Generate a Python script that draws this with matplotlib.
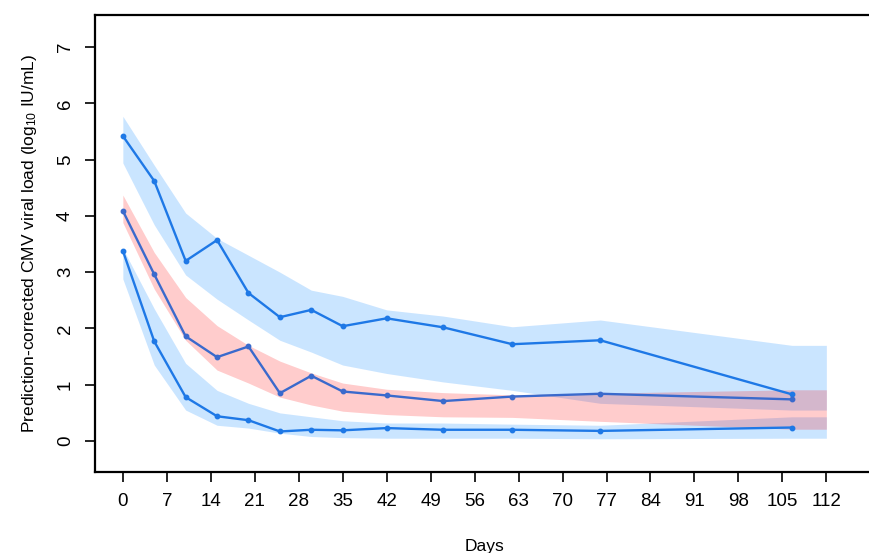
import matplotlib
matplotlib.use("Agg")
import matplotlib.pyplot as plt

plt.rcParams['font.family'] = ['Liberation Sans', 'DejaVu Sans']
plt.rcParams['mathtext.default'] = 'regular'

# observed percentiles (bin midpoints in days)
obs_x = [0, 5, 10, 15, 20, 25, 30, 35, 42, 51, 62, 76, 106.5]
obs_hi = [5.42, 4.62, 3.20, 3.57, 2.63, 2.20, 2.33, 2.04, 2.18, 2.02, 1.72, 1.79, 0.83]
obs_med = [4.09, 2.96, 1.86, 1.49, 1.68, 0.85, 1.16, 0.88, 0.81, 0.71, 0.79, 0.84, 0.74]
obs_lo = [3.38, 1.77, 0.78, 0.44, 0.37, 0.17, 0.20, 0.19, 0.23, 0.20, 0.20, 0.18, 0.24]

# simulated prediction intervals
band_x = [0, 5, 10, 15, 20, 25, 30, 35, 42, 51, 62, 76, 106.5, 112]
hi_top = [5.77, 4.90, 4.05, 3.60, 3.30, 3.00, 2.68, 2.57, 2.33, 2.22, 2.03, 2.15, 1.70, 1.70]
hi_bot = [4.94, 3.84, 2.95, 2.52, 2.15, 1.79, 1.58, 1.35, 1.20, 1.05, 0.90, 0.67, 0.55, 0.55]
med_top = [4.37, 3.35, 2.55, 2.05, 1.70, 1.42, 1.21, 1.03, 0.92, 0.86, 0.82, 0.85, 0.91, 0.91]
med_bot = [3.88, 2.70, 1.79, 1.26, 1.03, 0.78, 0.64, 0.53, 0.47, 0.43, 0.42, 0.35, 0.21, 0.21]
lo_top = [3.42, 2.35, 1.38, 0.90, 0.67, 0.50, 0.43, 0.36, 0.32, 0.32, 0.30, 0.28, 0.43, 0.43]
lo_bot = [2.88, 1.35, 0.55, 0.28, 0.23, 0.14, 0.08, 0.06, 0.05, 0.05, 0.05, 0.04, 0.05, 0.05]

xticks = list(range(0, 113, 7))
yticks = list(range(0, 8))

fig = plt.figure(figsize=(8.7, 5.53), dpi=100)
ax = fig.add_axes([0.109, 0.1465, 0.895, 0.8265])

blue_band = (30/255, 144/255, 255/255)
ax.fill_between(band_x, hi_bot, hi_top, color=blue_band, alpha=0.23, lw=0)
ax.fill_between(band_x, lo_bot, lo_top, color=blue_band, alpha=0.23, lw=0)
ax.fill_between(band_x, med_bot, med_top, color=(1, 0, 0), alpha=0.2, lw=0)

line_c = '#1E78E6'
med_c = '#3A6ACC'
ax.plot(obs_x, obs_hi, color=line_c, lw=1.7, marker='o', ms=3.2)
ax.plot(obs_x, obs_lo, color=line_c, lw=1.7, marker='o', ms=3.2)
ax.plot(obs_x, obs_med, color=med_c, lw=1.7, marker='o', ms=3.2)

ax.set_xlim(-4.46, 119.5)
ax.set_ylim(-0.55, 7.57)
ax.set_xticks(xticks)
ax.set_yticks(yticks)
ax.set_yticklabels([str(v) for v in yticks], rotation=90, va='center')
ax.tick_params(axis='both', labelsize=13.5, length=7, width=1.2, direction='out', pad=8, colors='black', labelcolor='black')
for s in ['left', 'top', 'bottom']:
    ax.spines[s].set_linewidth(1.6)
ax.spines['right'].set_visible(False)

ax.set_xlabel('Days', fontsize=12.5, labelpad=21)
ax.set_ylabel('Prediction-corrected CMV viral load (log$_{10}$ IU/mL)', fontsize=12.5, labelpad=13)

fig.savefig('out.png', dpi=100)
